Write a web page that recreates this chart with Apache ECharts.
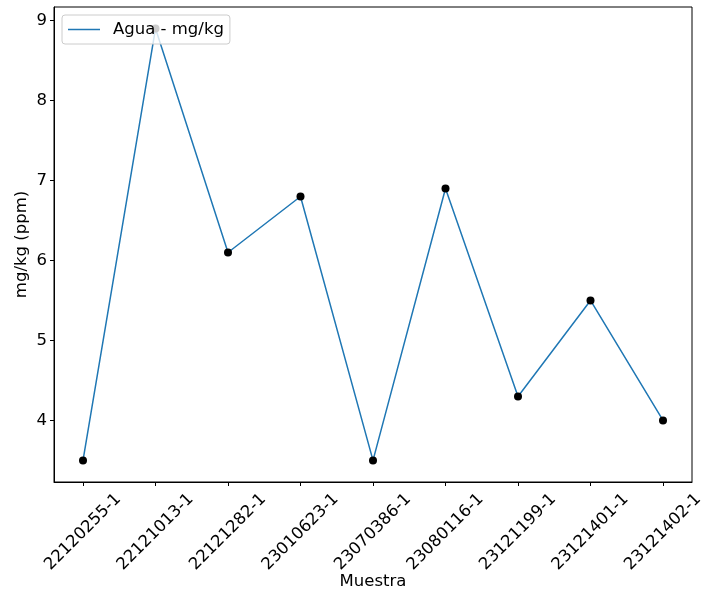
<!DOCTYPE html>
<html><head><meta charset="utf-8">
<script src="https://cdn.jsdelivr.net/npm/echarts@6/dist/echarts.min.js"></script>
<style>html,body{margin:0;padding:0;background:#fff}#c{width:717px;height:594px}</style>
</head><body><div id="c"></div>
<script>
const categories = ['22120255-1','22121013-1','22121282-1','23010623-1','23070386-1','23080116-1','23121199-1','23121401-1','23121402-1'];
const values = [3.5, 8.9, 6.1, 6.8, 3.5, 6.9, 4.3, 5.5, 4.0];
const yTicks = [4, 5, 6, 7, 8, 9];
const seriesName = 'Agua - mg/kg';

const font = 'DejaVu Sans';
const fs = 16.5;
const chart = echarts.init(document.getElementById('c'), null, {renderer: 'canvas'});
chart.setOption({
  animation: false,
  backgroundColor: '#fff',
  grid: {left: 54, right: 25, top: 7, bottom: 112, show: true, borderColor: '#000', borderWidth: 1, backgroundColor: 'transparent', containLabel: false, outerBoundsMode: 'none'},
  legend: {
    left: 62, top: 15,
    data: [{name: seriesName, icon: 'rect', itemStyle: {color: '#1f77b4'}}],
    itemWidth: 32, itemHeight: 1.5,
    backgroundColor: 'rgba(255,255,255,0.8)',
    borderColor: '#cccccc', borderWidth: 1, borderRadius: 3,
    padding: [6, 6, 6, 6],
    textStyle: {fontFamily: font, fontSize: fs, color: '#000', padding: [0, 0, 0, 8]}
  },
  xAxis: {
    type: 'value', min: -0.4, max: 8.4,
    name: 'Muestra', nameLocation: 'middle', nameGap: 91, nameMoveOverlap: false,
    nameTextStyle: {fontFamily: font, fontSize: fs, color: '#000'},
    splitLine: {show: false},
    axisLine: {show: true, onZero: false, lineStyle: {color: '#000', width: 1}},
    axisTick: {show: true, inside: false, length: 4, lineStyle: {color: '#000'}, customValues: categories.map((c, i) => i)},
    axisLabel: {
      customValues: categories.map((c, i) => i),
      formatter: v => categories[Math.round(v)] || '',
      rotate: 45, align: 'center', verticalAlign: 'middle', margin: 50,
      fontFamily: font, fontSize: fs, color: '#000'
    }
  },
  yAxis: {
    type: 'value', min: 3.23, max: 9.17,
    name: 'mg/kg (ppm)', nameLocation: 'middle', nameGap: 24, nameMoveOverlap: false,
    nameTextStyle: {fontFamily: font, fontSize: fs, color: '#000'},
    splitLine: {show: false},
    axisLine: {show: true, onZero: false, lineStyle: {color: '#000', width: 1}},
    axisTick: {show: true, inside: false, length: 4, lineStyle: {color: '#000'}, customValues: yTicks},
    axisLabel: {customValues: yTicks, fontFamily: font, fontSize: fs, color: '#000', margin: 7}
  },
  series: [{
    name: seriesName, type: 'line',
    data: values.map((v, i) => [i, v]),
    lineStyle: {color: '#1f77b4', width: 1.5},
    itemStyle: {color: '#000', borderWidth: 0},
    symbol: 'circle', symbolSize: 8, showSymbol: true
  }]
});
</script></body></html>
